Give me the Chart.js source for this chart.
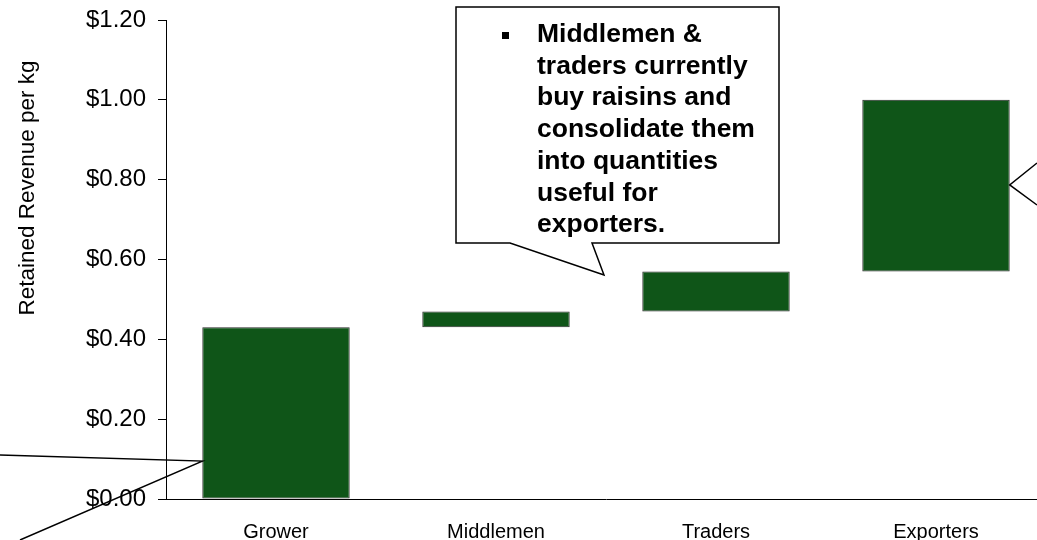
<!DOCTYPE html>
<html>
<head>
<meta charset="utf-8">
<script src="https://cdn.jsdelivr.net/npm/chart.js@4/dist/chart.umd.min.js"></script>
<style>
  html, body { margin: 0; padding: 0; overflow: hidden; background: #fff; }
  #wrap { position: relative; width: 1060px; height: 540px; }
</style>
</head>
<body>
<div id="wrap"><canvas id="c" width="1060" height="540"></canvas></div>
<script>
// Value chain stages and the revenue band each one retains ($ per kg)
const categories = ['Grower', 'Middlemen', 'Traders', 'Exporters'];
const bandStart = [0.00, 0.43, 0.47, 0.57];
const bandEnd   = [0.43, 0.47, 0.57, 1.00];
const yTicks = [0, 0.2, 0.4, 0.6, 0.8, 1.0, 1.2];

const axisTitle = 'Retained Revenue per kg';
const noteLines = [
  'Middlemen &',
  'traders currently',
  'buy raisins and',
  'consolidate them',
  'into quantities',
  'useful for',
  'exporters.'
];
// Where the side pointers touch the bars, in axis units
const growerPointerValue = 0.095;
const exporterPointerValue = 0.787;

const FONT = 'Arial, "Liberation Sans", Helvetica, sans-serif';
const BAR_GREEN = '#0f5518';

const floating = categories.map((c, i) => [bandStart[i], bandEnd[i]]);

const annotations = {
  id: 'annotations',
  afterDraw(chart) {
    const ctx = chart.ctx;
    const y = chart.scales.y;
    const bars = chart.getDatasetMeta(0).data;

    // Rotated axis title
    ctx.save();
    ctx.translate(28, 188);
    ctx.rotate(-Math.PI / 2);
    ctx.font = '22.5px ' + FONT;
    ctx.fillStyle = '#000';
    ctx.textAlign = 'center';
    ctx.textBaseline = 'middle';
    ctx.fillText(axisTitle, 0, 0);
    ctx.restore();

    ctx.save();
    ctx.strokeStyle = '#000';
    ctx.lineWidth = 1.5;

    // Pointer lines converging on the Grower bar
    const g = bars[0];
    const gx = g.x - g.width / 2;
    const gy = y.getPixelForValue(growerPointerValue);
    ctx.beginPath();
    ctx.moveTo(0, 455);
    ctx.lineTo(gx, gy);
    ctx.lineTo(20, 540);
    ctx.stroke();

    // Pointer lines converging on the Exporters bar
    const e = bars[3];
    const ex = e.x + e.width / 2;
    const ey = y.getPixelForValue(exporterPointerValue);
    ctx.beginPath();
    ctx.moveTo(1037, 163);
    ctx.lineTo(ex, ey);
    ctx.lineTo(1037, 205);
    ctx.stroke();

    // Speech bubble with note
    const L = 456, T = 7, R = 779, B = 243;
    ctx.beginPath();
    ctx.moveTo(L, T);
    ctx.lineTo(R, T);
    ctx.lineTo(R, B);
    ctx.lineTo(592, B);
    ctx.lineTo(604, 275);
    ctx.lineTo(510, B);
    ctx.lineTo(L, B);
    ctx.closePath();
    ctx.fillStyle = '#fff';
    ctx.fill();
    ctx.stroke();

    ctx.fillStyle = '#000';
    ctx.fillRect(502, 32, 7, 7);
    ctx.font = 'bold 26.5px ' + FONT;
    ctx.textAlign = 'left';
    ctx.textBaseline = 'alphabetic';
    noteLines.forEach((t, i) => ctx.fillText(t, 537, 42 + i * 31.7));
    ctx.restore();
  }
};

new Chart(document.getElementById('c'), {
  type: 'bar',
  data: {
    labels: categories,
    datasets: [{
      data: floating,
      backgroundColor: BAR_GREEN,
      borderColor: '#2a2a2a',
      borderWidth: 1,
      borderSkipped: false,
      categoryPercentage: 1.0,
      barPercentage: 0.67
    }]
  },
  options: {
    responsive: false,
    animation: false,
    layout: { padding: { top: 20, right: 14, left: 0, bottom: 0 } },
    plugins: { legend: { display: false }, tooltip: { enabled: false } },
    scales: {
      x: {
        grid: { display: false },
        border: { display: true, color: '#000', width: 1 },
        ticks: { color: '#000', font: { family: FONT, size: 20 }, padding: 13, maxRotation: 0 },
        afterFit(s) { s.height = 41; s.paddingLeft = 0; s.paddingRight = 0; }
      },
      y: {
        min: 0,
        max: 1.2,
        afterBuildTicks(s) { s.ticks = yTicks.map(v => ({ value: v })); },
        grid: { display: true, drawOnChartArea: false, drawTicks: true, tickLength: 8, color: '#000' },
        border: { display: true, color: '#000', width: 1 },
        ticks: {
          color: '#000',
          font: { family: FONT, size: 24 },
          padding: 12,
          callback: v => '$' + Number(v).toFixed(2)
        },
        afterFit(s) { s.width = 166; s.paddingTop = 0; s.paddingBottom = 0; }
      }
    }
  },
  plugins: [annotations]
});
</script>
</body>
</html>
